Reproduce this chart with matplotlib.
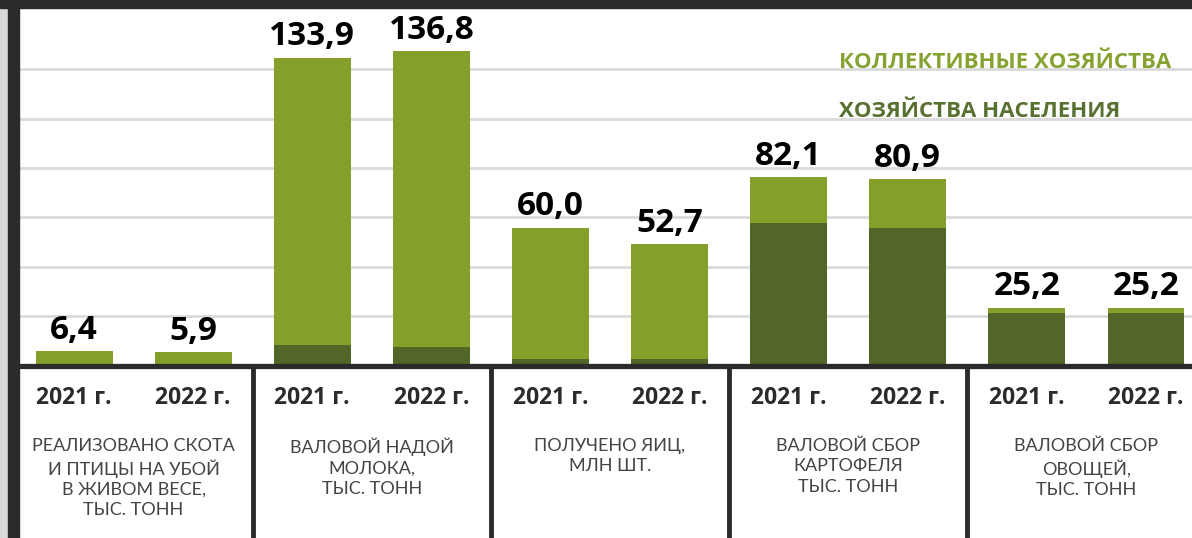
import numpy as np
import matplotlib.pyplot as plt
from matplotlib.patches import Rectangle

# Data
years = ["2021 г.", "2022 г."]
categories = [
    "РЕАЛИЗОВАНО СКОТА\nИ ПТИЦЫ НА УБОЙ\nВ ЖИВОМ ВЕСЕ,\nТЫС. ТОНН",
    "ВАЛОВОЙ НАДОЙ\nМОЛОКА,\nТЫС. ТОНН",
    "ПОЛУЧЕНО ЯИЦ,\nМЛН ШТ.",
    "ВАЛОВОЙ СБОР\nКАРТОФЕЛЯ\nТЫС. ТОНН",
    "ВАЛОВОЙ СБОР\nОВОЩЕЙ,\nТЫС. ТОНН",
]
totals = [6.4, 5.9, 133.9, 136.8, 60.0, 52.7, 82.1, 80.9, 25.2, 25.2]
households = [0.0, 0.0, 9.0, 8.0, 3.0, 3.0, 62.0, 60.0, 22.7, 22.7]
legend_labels = ["КОЛЛЕКТИВНЫЕ ХОЗЯЙСТВА", "ХОЗЯЙСТВА НАСЕЛЕНИЯ"]

LIGHT = "#84a02a"
DARK = "#516627"
INK = "#2b2b2b"
GRID = "#dadada"

W, H = 1192, 538
fig = plt.figure(figsize=(W / 100, H / 100), dpi=100)
fig.patch.set_facecolor("white")

x = np.arange(len(totals))
collective = np.array(totals) - np.array(households)
xlim = (-0.462, 9.386)
px_per_unit = 2.3

# Main bar axes
base_px = 365.5
ax = fig.add_axes([19 / W, (H - base_px) / H, (W - 19) / W, (base_px - 8) / H])
ax.set_xlim(*xlim)
ax.set_ylim(0, (base_px - 8) / px_per_unit)
ax.bar(x, households, width=0.646, color=DARK, zorder=2)
ax.bar(x, collective, bottom=households, width=0.646, color=LIGHT, zorder=2)
for xi, v in zip(x, totals):
    ax.annotate(f"{v:.1f}".replace(".", ","), (xi, v), xytext=(0, 3),
                textcoords="offset points", ha="center", va="bottom",
                fontsize=24, fontweight="bold", family="Open Sans", color="black")
step = 49.4 / px_per_unit
ax.set_yticks(step * np.arange(1, 7))
ax.yaxis.grid(True, color=GRID, linewidth=2)
ax.set_axisbelow(True)
ax.tick_params(left=False, bottom=False, labelleft=False, labelbottom=False)
for s in ["top", "right", "left"]:
    ax.spines[s].set_visible(False)
ax.spines["bottom"].set_color(INK)
ax.spines["bottom"].set_linewidth(3.8)
ax.spines["bottom"].set_zorder(5)

# Legend as coloured text
ax.text(0.699, 0.832, legend_labels[0], transform=ax.transAxes, color="#86a331",
        fontsize=16, fontweight="bold", family="Open Sans", va="baseline")
ax.text(0.699, 0.695, legend_labels[1], transform=ax.transAxes, color="#587030",
        fontsize=16, fontweight="bold", family="Open Sans", va="baseline")

# Lower label axes
ax2 = fig.add_axes([19 / W, 0, (W - 19) / W, (H - base_px) / H])
ax2.set_xlim(*xlim)
ax2.set_ylim(0, 1)
ax2.axis("off")
ax2.vlines([1.5, 3.5, 5.5, 7.5], 0, 1, color=INK, linewidth=3.5)
for xi in x:
    ax2.text(xi, 0.81, years[xi % 2], ha="center", va="center", fontsize=16.5,
             fontweight="bold", family="Open Sans", color=INK)
for i, cat in enumerate(categories):
    ax2.text(2 * i + 0.5, 0.58, cat, ha="center", va="top", fontsize=13,
             family="Lato", color="#444444", linespacing=1.33)

# Frame decorations
fig.patches.append(Rectangle((0, 0), 8 / W, 1, transform=fig.transFigure,
                             color="#d9d9d9", zorder=10))
fig.patches.append(Rectangle((8 / W, 0), 11 / W, 1, transform=fig.transFigure,
                             color=INK, zorder=11))
fig.patches.append(Rectangle((0, 1 - 8 / H), 1, 8 / H, transform=fig.transFigure,
                             color=INK, zorder=12))

fig.savefig("out.png", dpi=100)
